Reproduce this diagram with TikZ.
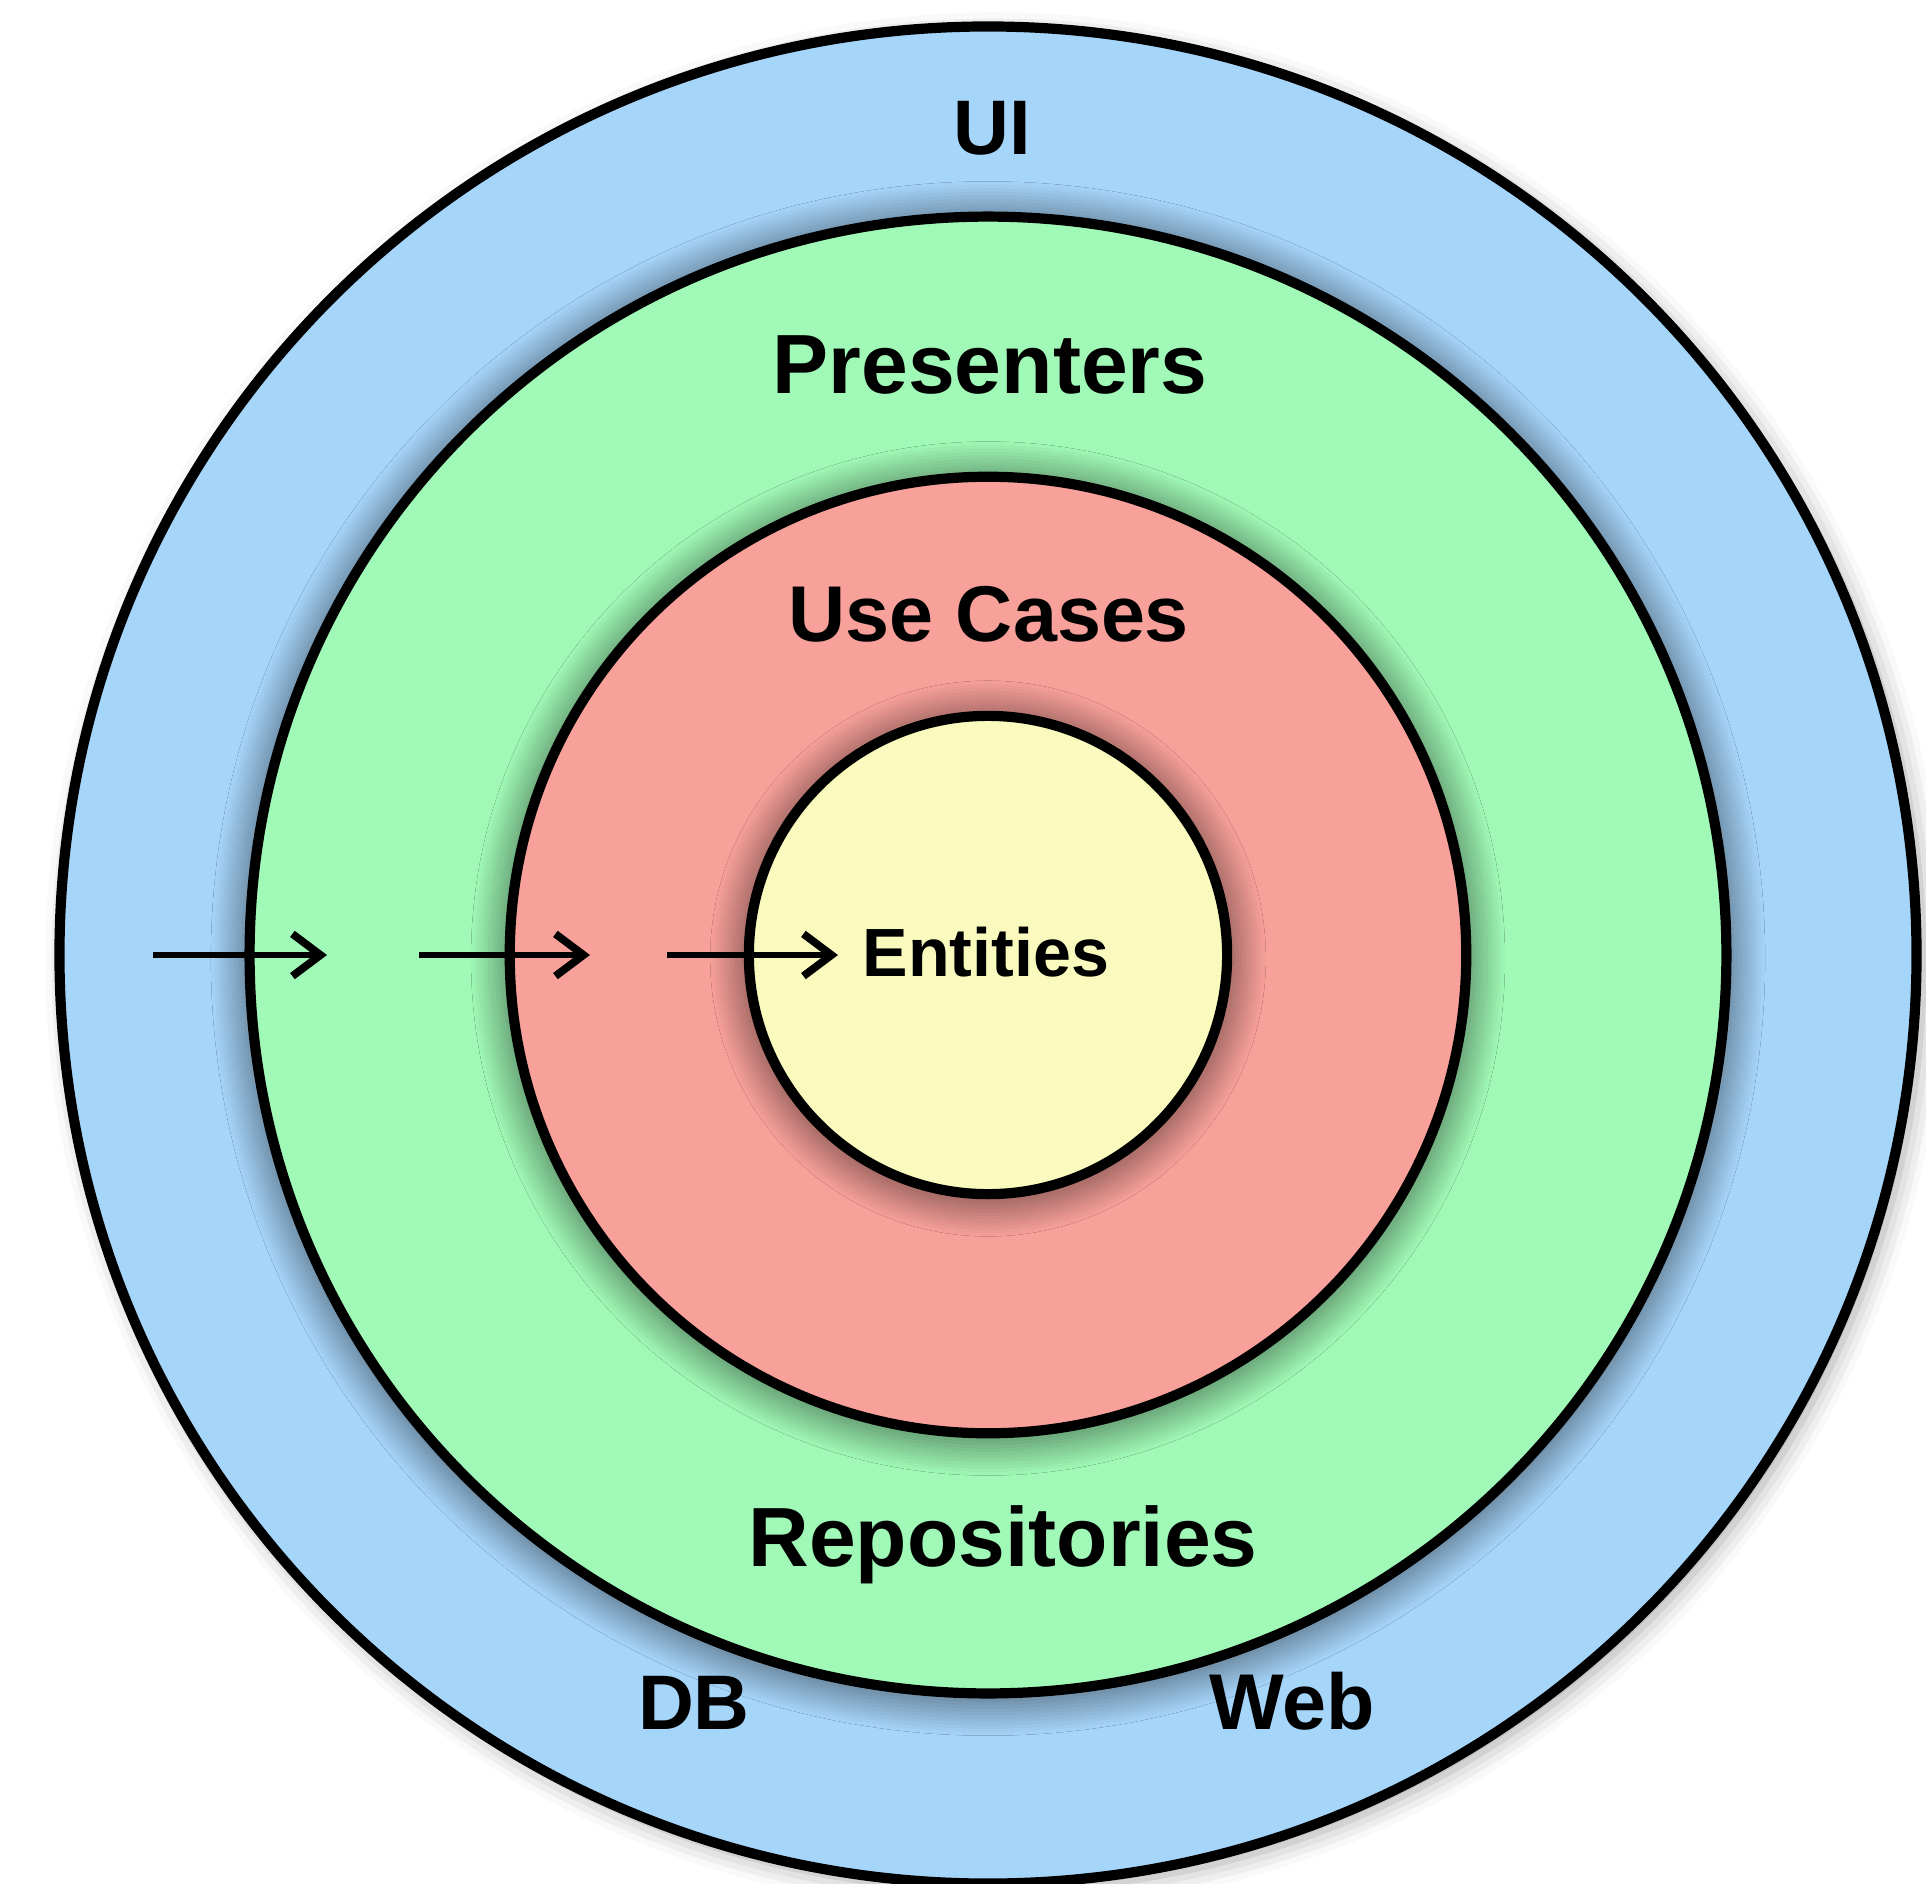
\documentclass[tikz,border=0pt]{standalone}
\usepackage{fontspec}
\setmainfont{Liberation Sans}
\usetikzlibrary{arrows.meta,shadows.blur}
\definecolor{ublue}{HTML}{A6D5FA}
\definecolor{ugreen}{HTML}{A0F9B6}
\definecolor{ured}{HTML}{F8A09A}
\definecolor{uyellow}{HTML}{FAFABE}
\begin{document}
\begin{tikzpicture}[x=0.01cm,y=-0.01cm,
  ring/.style={circle,draw=black,line width=2.9pt,inner sep=0pt},
  shad/.style={blur shadow={shadow xshift=0pt,shadow yshift=-1pt,shadow blur radius=11pt,shadow blur steps=12,shadow opacity=70}},
  lab/.style={font=\bfseries,anchor=base,inner sep=0pt},
  arr/.style={line width=1.5pt,-{Straight Barb[length=8pt,width=12pt,line width=2.2pt]}}]
\useasboundingbox (0,0) rectangle (1926,1884);
\coordinate (c) at (988,955);
\node[ring,fill=ublue,minimum size=18.56cm,blur shadow={shadow xshift=2pt,shadow yshift=-2pt,shadow blur radius=6pt,shadow opacity=35}] (uiring) at (c) {};
\node[ring,fill=ugreen,minimum size=14.76cm,shad] (presring) at (c) {};
\node[ring,fill=ured,minimum size=9.56cm,shad] (ucring) at (c) {};
\node[ring,fill=uyellow,minimum size=4.78cm,shad] (entring) at (c) {};
\node[lab,font=\fontsize{22pt}{26pt}\bfseries] (ui) at (992,154) {UI};
\node[lab,font=\fontsize{23.9pt}{28pt}\bfseries] (pres) at (990,393) {Presenters};
\node[lab,font=\fontsize{22.5pt}{27pt}\bfseries] (uc) at (989,641) {Use Cases};
\node[lab,font=\fontsize{19.4pt}{24pt}\bfseries] (ent) at (986,976) {Entities};
\node[lab,font=\fontsize{23.9pt}{28pt}\bfseries] (repo) at (1003,1566) {Repositories};
\node[lab,font=\fontsize{22pt}{26pt}\bfseries] (db) at (694,1729) {DB};
\node[lab,font=\fontsize{22.5pt}{27pt}\bfseries] (web) at (1292,1729) {Web};
\coordinate (a1s) at (153,955); \coordinate (a1e) at (327,955);
\coordinate (a2s) at (419,955); \coordinate (a2e) at (590,955);
\coordinate (a3s) at (667,955); \coordinate (a3e) at (838,955);
\draw[arr] (a1s) -- (a1e);
\draw[arr] (a2s) -- (a2e);
\draw[arr] (a3s) -- (a3e);
\end{tikzpicture}
\end{document}
